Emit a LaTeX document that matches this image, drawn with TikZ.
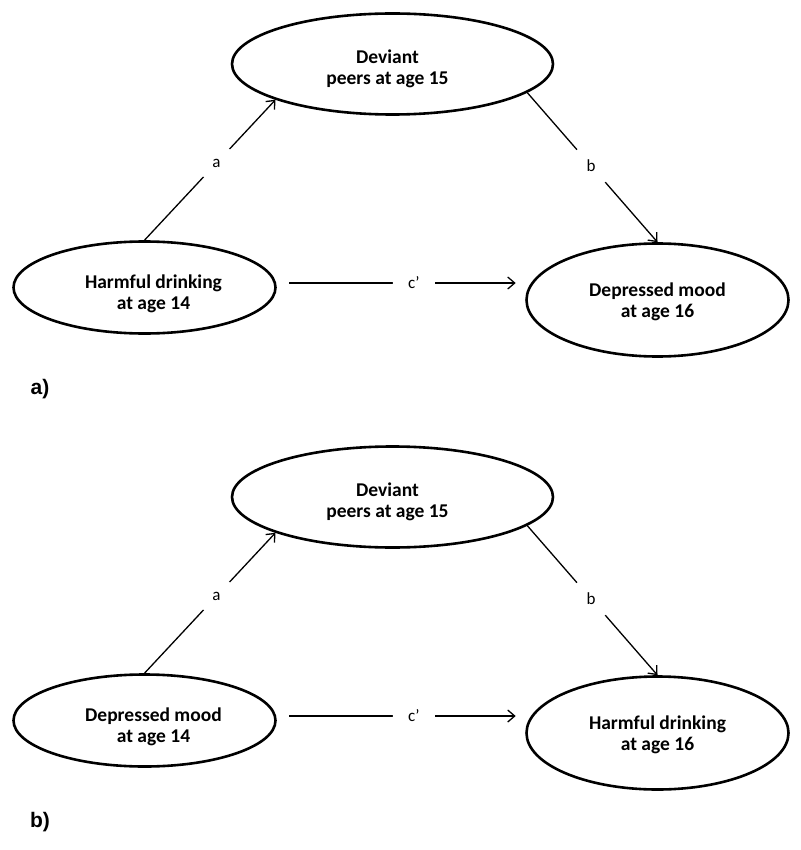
\documentclass[tikz,border=0pt]{standalone}
\usepackage{fontspec}
\setmainfont{Carlito}
\newfontfamily\arialfont{Liberation Sans}
\usetikzlibrary{shapes.geometric,arrows.meta}
\begin{document}
\begin{tikzpicture}[x=1pt,y=-1pt,
  oval/.style={ellipse,draw,line width=2.6pt,inner sep=0pt},
  ovtext/.style={font=\fontsize{19.5}{21}\selectfont\bfseries,align=center},
  arr/.style={line width=1.3pt,-{Straight Barb[length=7pt,width=12pt,line width=1.3pt]}},
  gap/.style={circle,fill=white,inner sep=0pt,font=\fontsize{17}{20}\selectfont},
  panel/.style={font=\arialfont\bfseries\fontsize{21}{24}\selectfont}]
\useasboundingbox (0,0) rectangle (800,850);
% panel a
\node[oval,minimum width=321pt,minimum height=101pt,
  label={[ovtext,xshift=-5pt,yshift=-5pt]center:{Deviant\\peers at age 15}}] (Ta) at (392.5,64) {};
\node[oval,minimum width=262pt,minimum height=92pt,
  label={[ovtext,xshift=9pt,yshift=-6pt]center:{Harmful drinking\\at age 14}}] (La) at (144.5,287.5) {};
\node[oval,minimum width=262pt,minimum height=113pt,
  label={[ovtext,yshift=-2pt]center:{Depressed mood\\at age 16}}] (Ra) at (657.5,300) {};
\draw[arr] (La.north) -- node[gap,minimum size=38pt,pos=0.55]{a} (Ta.197);
\draw[arr] (Ta.-12) -- node[gap,minimum size=43pt,pos=0.49]{b} (Ra.north);
\draw[arr] ([xshift=12.5pt,yshift=4.5pt]La.east) -- node[gap,minimum size=42pt,pos=0.55]{c’} ([xshift=-9.5pt,yshift=17pt]Ra.west);
\node[panel] (pa) at (40,389) {a)};
% panel b
\node[oval,minimum width=321pt,minimum height=101pt,
  label={[ovtext,xshift=-5pt,yshift=-5pt]center:{Deviant\\peers at age 15}}] (Tb) at (392.5,497) {};
\node[oval,minimum width=262pt,minimum height=92pt,
  label={[ovtext,xshift=9pt,yshift=-6pt]center:{Depressed mood\\at age 14}}] (Lb) at (144.5,720.5) {};
\node[oval,minimum width=262pt,minimum height=113pt,
  label={[ovtext,yshift=-2pt]center:{Harmful drinking\\at age 16}}] (Rb) at (657.5,733) {};
\draw[arr] (Lb.north) -- node[gap,minimum size=38pt,pos=0.55]{a} (Tb.197);
\draw[arr] (Tb.-12) -- node[gap,minimum size=43pt,pos=0.49]{b} (Rb.north);
\draw[arr] ([xshift=12.5pt,yshift=4.5pt]Lb.east) -- node[gap,minimum size=42pt,pos=0.55]{c’} ([xshift=-9.5pt,yshift=17pt]Rb.west);
\node[panel] (pb) at (40,822) {b)};
\end{tikzpicture}
\end{document}
